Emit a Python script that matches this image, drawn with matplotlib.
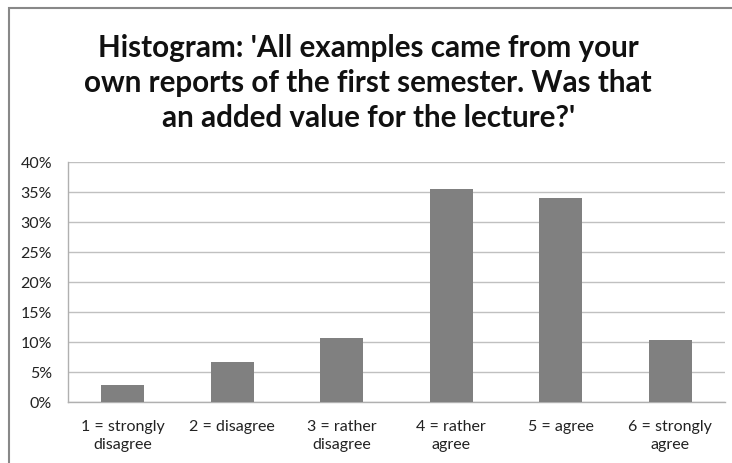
import matplotlib.pyplot as plt
from matplotlib.patches import Rectangle
import numpy as np

categories = ['1 = strongly\ndisagree', '2 = disagree', '3 = rather\ndisagree',
              '4 = rather\nagree', '5 = agree', '6 = strongly\nagree']
shares = [2.9, 6.6, 10.6, 35.5, 34.0, 10.3]  # percent
yticks = [0, 5, 10, 15, 20, 25, 30, 35, 40]
title = ("Histogram: 'All examples came from your\n"
         "own reports of the first semester. Was that\n"
         "an added value for the lecture?'")

plt.rcParams['font.family'] = ['Lato', 'DejaVu Sans']

fig = plt.figure(figsize=(7.32, 4.64), dpi=100)
ax = fig.add_axes([68 / 732, 1 - 403 / 464, 657 / 732, 240 / 464])

x = np.arange(len(categories))
ax.bar(x, shares, width=0.39, color='#808080', zorder=3)

ax.set_xlim(-0.5, len(categories) - 0.5)
ax.set_ylim(0, 40)
ax.set_yticks(yticks)
ax.set_yticklabels(['%d%%' % v for v in yticks])
ax.set_xticks(x)
ax.set_xticklabels(categories, linespacing=1.4)
ax.tick_params(length=0, labelsize=11.5, colors='#222222')
ax.tick_params(axis='y', pad=11.5)
ax.tick_params(axis='x', pad=12)
ax.grid(axis='y', color='#c0c0c0', linewidth=1, zorder=0)

for side in ['top', 'right']:
    ax.spines[side].set_visible(False)
for side in ['left', 'bottom']:
    ax.spines[side].set_color('#b0b0b0')
    ax.spines[side].set_linewidth(1)

fig.text(0.503, 1 - 83 / 464, title, ha='center', va='center', fontsize=21.3,
         fontweight='bold', linespacing=1.3, color='#111111')

# outer chart border
fig.patches.append(Rectangle((9 / 732, -0.05), 1.0, 1 - 9 / 464 + 0.05,
                             transform=fig.transFigure, fill=False,
                             edgecolor='#888888', linewidth=1.5))

fig.savefig('out.png', dpi=100)
